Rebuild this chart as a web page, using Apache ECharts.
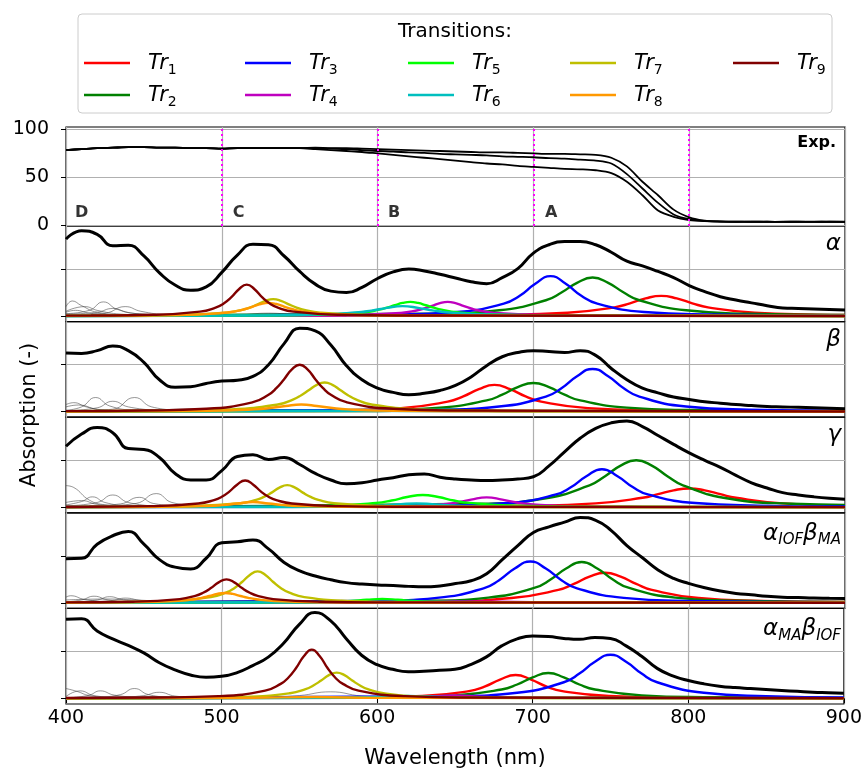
<!DOCTYPE html>
<html><head><meta charset="utf-8">
<script src="https://cdn.jsdelivr.net/npm/echarts@6/dist/echarts.min.js"></script>
<style>html,body{margin:0;padding:0;background:#fff}#c{width:865px;height:771px}</style>
</head><body><div id="c"></div>
<script>
// ---------------- DATA ----------------
const wavelengths = [400,410,420,430,440,450,460,470,480,490,500,510,520,530,540,550,560,570,580,590,600,610,620,630,640,650,660,670,680,690,700,710,720,730,740,750,760,770,780,790,800,810,820,830,840,850,860,870,880,890,900];
const xTicks = [400,500,600,700,800,900];
const expTicks = [0,50,100];
const modelTicks = [0,1];
const expMarkers = [500,600,700,800];
const regionLetters = [['D',405.8,12.5],['C',507,12.5],['B',606.7,12.5],['A',707.4,12.5]];

const expUpper = [78,79,80,80.5,81,81,80.5,80.5,80,80,79.5,80,80,80,80,80,80.5,80,80,79.5,79,78.5,78,77.5,77,76.5,76,75.5,75.5,75,74.5,74,74,73.5,73,70,61,45,31,16,8,4.5,3.7,3.4,3.6,3.2,3.5,3.3,3.6,3.2,3.4];
const expMiddle = [78,79,80,80.5,81,81,80.5,80.5,80,80,79.5,80,80,80,80,80,80,79.5,79,78,77,76.5,75.5,75,74,73.5,73,72.5,71.5,71,70.5,69.5,69,68,67,64,53,38,23,11,6,4.2,3.6,3.3,3.4,3.5,3.2,3.4,3.3,3.5,3.3];
const expLower = [78,79,80,80.5,81,81,80.5,80.5,80,80,79.5,80,80,80,80,80,79,78,77,76,74.5,73,71.5,70,68.5,67,65.5,64,63,61.5,60.5,59.5,58.5,58,57,54,45,31,15,8.5,5.2,4,3.6,3.5,3.3,3.4,3.3,3.5,3.2,3.4,3.3];

const panelLabels = ['α','β','γ','{g|α}{s|IOF}{g|β}{s|MA}','{g|α}{s|MA}{g|β}{s|IOF}'];
const transitionNames = ['1','2','3','4','5','6','7','8','9'];

const totalAlpha = [1.64,1.82,1.74,1.50,1.51,1.28,0.92,0.66,0.55,0.62,0.93,1.30,1.53,1.52,1.28,0.95,0.68,0.53,0.50,0.61,0.80,0.94,1.00,0.96,0.89,0.81,0.73,0.69,0.82,1.01,1.34,1.52,1.59,1.59,1.52,1.36,1.17,1.07,0.95,0.82,0.65,0.52,0.41,0.34,0.28,0.22,0.17,0.16,0.15,0.14,0.13];
const totalBeta = [1.25,1.24,1.30,1.40,1.30,1.05,0.68,0.52,0.53,0.60,0.65,0.67,0.75,1.00,1.45,1.78,1.72,1.42,0.98,0.68,0.50,0.41,0.36,0.39,0.45,0.56,0.74,0.98,1.17,1.26,1.30,1.28,1.26,1.30,1.20,0.92,0.68,0.50,0.40,0.31,0.26,0.21,0.18,0.15,0.13,0.11,0.10,0.09,0.08,0.07,0.06];
const totalGamma = [1.30,1.56,1.70,1.59,1.25,1.23,1.06,0.72,0.58,0.58,0.78,1.08,1.12,1.02,1.06,0.91,0.72,0.58,0.50,0.52,0.58,0.63,0.69,0.71,0.64,0.60,0.58,0.57,0.58,0.60,0.65,0.88,1.18,1.47,1.68,1.80,1.84,1.72,1.53,1.34,1.16,1.00,0.85,0.68,0.52,0.41,0.31,0.26,0.22,0.19,0.17];
const totalAIOF = [0.94,0.95,1.25,1.43,1.52,1.25,0.92,0.76,0.72,0.95,1.28,1.30,1.34,1.15,0.86,0.68,0.57,0.49,0.43,0.40,0.38,0.37,0.35,0.34,0.36,0.41,0.47,0.62,0.92,1.22,1.50,1.62,1.72,1.82,1.76,1.54,1.22,0.96,0.70,0.52,0.41,0.32,0.25,0.20,0.17,0.14,0.12,0.11,0.10,0.095,0.09];
const totalAMA = [1.69,1.70,1.44,1.27,1.13,0.97,0.76,0.61,0.50,0.45,0.47,0.55,0.70,0.88,1.18,1.58,1.83,1.66,1.28,0.92,0.72,0.62,0.57,0.58,0.60,0.62,0.72,0.88,1.12,1.27,1.33,1.32,1.28,1.26,1.30,1.28,1.12,0.90,0.64,0.48,0.38,0.31,0.26,0.23,0.21,0.19,0.17,0.15,0.13,0.12,0.11];

const trAlpha = [
 [[400,.002],[682,.027],[722,.068],[752,.184],[762,.27],[772,.375],[782,.43],[792,.375],[802,.27],[812,.184],[842,.068],[882,.027],[900,.02]],
 [[400,.005],[638,.048],[678,.121],[708,.336],[718,.50],[728,.707],[738,.82],[748,.707],[758,.50],[768,.336],[798,.121],[838,.048],[900,.02]],
 [[400,.003],[611,.032],[651,.085],[681,.262],[691,.425],[701,.68],[711,.85],[721,.68],[731,.425],[741,.262],[771,.085],[811,.032],[900,.01]],
 [[400,.001],[545,.0075],[585,.02],[615,.066],[625,.117],[630,.16],[635,.216],[640,.273],[645,.30],[650,.273],[655,.216],[660,.16],[665,.117],[675,.066],[705,.02],[745,.0075],[900,.001]],
 [[400,.001],[521,.009],[561,.025],[591,.08],[601,.134],[606,.177],[611,.229],[616,.278],[621,.30],[626,.278],[631,.229],[636,.177],[641,.134],[651,.08],[681,.025],[721,.009],[900,.001]],
 [[400,.001],[516,.01],[556,.025],[586,.074],[596,.115],[606,.174],[616,.21],[626,.174],[636,.115],[646,.074],[676,.025],[716,.01],[900,.001]],
 [[400,.003],[433,.008],[473,.021],[503,.072],[513,.13],[518,.18],[523,.249],[528,.324],[533,.36],[538,.324],[543,.249],[548,.18],[553,.13],[563,.072],[593,.021],[633,.008],[900,.001]],
 [[400,.002],[430,.007],[470,.018],[500,.062],[510,.109],[515,.149],[520,.201],[525,.255],[530,.28],[535,.255],[540,.201],[545,.149],[550,.109],[560,.062],[590,.018],[630,.007],[900,.001]],
 [[400,.007],[416,.009],[456,.025],[486,.092],[496,.178],[501,.261],[506,.395],[511,.571],[516,.67],[521,.571],[526,.395],[531,.261],[536,.178],[546,.092],[576,.025],[616,.009],[900,.001]]
];
const trBeta = [
 [[400,.003],[575,.029],[615,.073],[645,.211],[655,.324],[665,.479],[675,.57],[685,.479],[695,.324],[705,.211],[735,.073],[775,.029],[900,.006]],
 [[400,.004],[600,.033],[640,.084],[670,.238],[680,.36],[690,.52],[700,.61],[710,.52],[720,.36],[730,.238],[760,.084],[800,.033],[900,.009]],
 [[400,.004],[638,.042],[678,.108],[708,.319],[718,.499],[728,.754],[738,.91],[748,.754],[758,.499],[768,.319],[798,.108],[838,.042],[900,.02]],
 [[400,0],[600,.01],[640,.03],[680,.01],[900,0]],
 [[400,0],[600,.01],[640,.04],[680,.01],[900,0]],
 [[400,0],[500,.01],[560,.02],[620,.01],[900,0]],
 [[400,.006],[466,.017],[506,.046],[536,.151],[546,.26],[551,.349],[556,.461],[561,.571],[566,.62],[571,.571],[576,.461],[581,.349],[586,.26],[596,.151],[626,.046],[666,.017],[900,.002]],
 [[400,.002],[451,.006],[491,.015],[521,.046],[531,.075],[541,.12],[551,.15],[561,.12],[571,.075],[581,.046],[611,.015],[651,.006],[900,.001]],
 [[400,.01],[450,.022],[490,.059],[520,.2],[530,.36],[535,.5],[540,.692],[545,.9],[550,1.0],[555,.9],[560,.692],[565,.5],[570,.36],[580,.2],[610,.059],[650,.022],[900,.003]]
];
const trGamma = [
 [[400,.003],[700,.033],[740,.08],[770,.2],[780,.277],[790,.36],[800,.40],[810,.36],[820,.277],[830,.2],[860,.08],[900,.033]],
 [[400,.006],[666,.073],[706,.179],[736,.466],[746,.662],[756,.887],[766,1.0],[776,.887],[786,.662],[796,.466],[826,.179],[866,.073],[900,.05]],
 [[400,.003],[644,.034],[684,.088],[714,.266],[724,.424],[734,.66],[744,.81],[754,.66],[764,.424],[774,.266],[804,.088],[844,.034],[900,.016]],
 [[400,.001],[570,.007],[610,.017],[640,.056],[650,.094],[660,.16],[670,.21],[680,.16],[690,.094],[700,.056],[730,.017],[770,.007],[900,.001]],
 [[400,.001],[529,.012],[569,.031],[599,.091],[609,.142],[619,.216],[629,.26],[639,.216],[649,.142],[659,.091],[689,.031],[729,.012],[900,.002]],
 [[400,.001],[525,.004],[565,.01],[595,.028],[605,.044],[615,.066],[625,.08],[635,.066],[645,.044],[655,.028],[685,.01],[725,.004],[900,0]],
 [[400,.004],[442,.009],[482,.024],[512,.084],[522,.155],[527,.219],[532,.311],[537,.417],[542,.47],[547,.417],[552,.311],[557,.219],[562,.155],[572,.084],[602,.024],[642,.009],[900,.001]],
 [[400,.001],[420,.003],[460,.007],[490,.024],[500,.043],[510,.079],[520,.11],[530,.079],[540,.043],[550,.024],[580,.007],[620,.003],[900,0]],
 [[400,.005],[415,.008],[455,.022],[485,.079],[495,.151],[500,.222],[505,.336],[510,.486],[515,.57],[520,.486],[525,.336],[530,.222],[535,.151],[545,.079],[575,.022],[615,.008],[900,.001]]
];
const trAIOF = [
 [[400,.004],[646,.04],[686,.101],[716,.275],[726,.402],[736,.557],[746,.64],[756,.557],[766,.402],[776,.275],[806,.101],[846,.04],[900,.018]],
 [[400,.004],[631,.044],[671,.111],[701,.322],[711,.495],[721,.732],[731,.87],[741,.732],[751,.495],[761,.322],[791,.111],[831,.044],[900,.016]],
 [[400,.005],[598,.04],[638,.105],[668,.308],[678,.482],[688,.73],[698,.88],[708,.73],[718,.482],[728,.308],[758,.105],[798,.04],[900,.01]],
 [[400,0],[600,.01],[650,.03],[700,.01],[900,0]],
 [[400,0],[503,.003],[543,.008],[573,.025],[583,.04],[593,.064],[603,.08],[613,.064],[623,.04],[633,.025],[663,.008],[703,.003],[900,0]],
 [[400,0],[550,.01],[620,.015],[700,.005],[900,0]],
 [[400,.007],[423,.013],[463,.035],[493,.12],[503,.22],[508,.312],[513,.443],[518,.594],[523,.67],[528,.594],[533,.443],[538,.312],[543,.22],[553,.12],[583,.035],[623,.013],[900,.002]],
 [[400,.005],[442,.012],[472,.042],[482,.076],[487,.105],[492,.145],[497,.189],[502,.21],[507,.189],[512,.145],[517,.105],[522,.076],[532,.042],[562,.012],[602,.005],[900,.001]],
 [[400,.008],[443,.023],[473,.079],[483,.149],[488,.215],[493,.314],[498,.436],[503,.50],[508,.436],[513,.314],[518,.215],[523,.149],[533,.079],[563,.023],[603,.009],[900,.001]]
];
const trAMA = [
 [[400,.003],[589,.019],[629,.05],[659,.154],[669,.25],[679,.40],[689,.50],[699,.40],[709,.25],[719,.154],[749,.05],[789,.019],[900,.006]],
 [[400,.003],[610,.025],[650,.064],[680,.189],[690,.296],[700,.448],[710,.54],[720,.448],[730,.296],[740,.189],[770,.064],[810,.025],[900,.008]],
 [[400,.004],[650,.047],[690,.119],[720,.344],[730,.529],[740,.782],[750,.93],[760,.782],[770,.529],[780,.344],[810,.119],[850,.047],[900,.022]],
 [[400,0],[590,.01],[630,.03],[650,.06],[670,.03],[710,.01],[900,0]],
 [[400,0],[580,.01],[620,.03],[660,.01],[900,0]],
 [[400,0],[560,.01],[600,.03],[620,.05],[640,.03],[680,.01],[900,0]],
 [[400,.004],[474,.012],[514,.032],[544,.11],[554,.198],[559,.275],[564,.381],[569,.495],[574,.55],[579,.495],[584,.381],[589,.275],[594,.198],[604,.11],[634,.032],[674,.012],[900,.002]],
 [[400,0],[520,.01],[560,.03],[600,.01],[900,0]],
 [[400,.007],[458,.018],[498,.047],[528,.164],[538,.309],[543,.446],[548,.653],[553,.906],[558,1.04],[563,.906],[568,.653],[573,.446],[578,.309],[588,.164],[618,.047],[658,.018],[900,.002]]
];

const grayAlpha = [
 [[400,0.2],[404,0.32],[410,0.22],[420,0.08],[440,0.02],[480,0.005]],
 [[400,0.05],[415,0.12],[424,0.30],[433,0.14],[450,0.04],[480,0.01]],
 [[400,0.02],[425,0.06],[438,0.2],[448,0.1],[465,0.03],[490,0.01]],
 [[400,0.1],[412,0.2],[420,0.12],[435,0.04],[460,0.01]],
 [[400,0.04],[420,0.08],[430,0.16],[440,0.07],[460,0.02]],
 [[400,0.08],[406,0.12],[415,0.06],[430,0.02]],
 [[480,0],[510,0.02],[530,0.06],[550,0.02],[580,0]]
];
const grayBeta = [
 [[400,0.15],[405,0.19],[413,0.1],[425,0.03],[450,0.01]],
 [[400,0.03],[410,0.1],[419,0.30],[428,0.12],[445,0.03],[470,0.01]],
 [[400,0.02],[420,0.08],[430,0.22],[440,0.1],[460,0.02]],
 [[400,0.01],[430,0.05],[444,0.30],[455,0.1],[475,0.02]],
 [[400,0.1],[408,0.14],[420,0.05],[440,0.01]],
 [[420,0.01],[460,0.04],[490,0.06],[520,0.02],[560,0]]
];
const grayGamma = [
 [[400,0.46],[405,0.42],[415,0.15],[425,0.05],[440,0.01]],
 [[400,0.05],[410,0.12],[417,0.22],[425,0.1],[440,0.03],[460,0.01]],
 [[400,0.03],[420,0.1],[430,0.26],[440,0.1],[460,0.02]],
 [[410,0.02],[435,0.07],[447,0.21],[456,0.08],[475,0.02]],
 [[420,0.02],[445,0.08],[458,0.29],[468,0.1],[490,0.01]],
 [[400,0.1],[410,0.14],[420,0.06],[440,0.01]]
];
const grayAIOF = [
 [[400,0.12],[403,0.15],[412,0.07],[430,0.01]],
 [[400,0.02],[410,0.06],[418,0.14],[427,0.06],[445,0.01]],
 [[405,0.02],[420,0.06],[428,0.13],[437,0.06],[455,0.01]],
 [[415,0.02],[430,0.05],[438,0.1],[448,0.05],[465,0.01]],
 [[400,0.06],[425,0.08],[445,0.06],[470,0.01]]
];
const grayAMA = [
 [[400,0.21],[407,0.15],[415,0.06],[430,0.01]],
 [[400,0.04],[409,0.16],[418,0.06],[435,0.01]],
 [[405,0.02],[415,0.07],[422,0.16],[431,0.07],[450,0.01]],
 [[420,0.02],[435,0.08],[444,0.21],[453,0.08],[470,0.01]],
 [[435,0.02],[450,0.06],[460,0.13],[470,0.05],[490,0.01]],
 [[520,0],[550,0.06],[570,0.14],[590,0.05],[620,0]]
];

// ---------------- BUILD ----------------
const F = 'DejaVu Sans';
const colors = ['#ff0000','#008000','#0000ff','#bf00bf','#00ff00','#00bfbf','#bfbf00','#ff9900','#800000'];
const totals = [totalAlpha,totalBeta,totalGamma,totalAIOF,totalAMA];
const trs = [trAlpha,trBeta,trGamma,trAIOF,trAMA];
const grays = [grayAlpha,grayBeta,grayGamma,grayAIOF,grayAMA];
const LEFT = 66, WIDTH = 779;
const panelTops = [226, 321.6, 417.2, 512.8, 608.4];
const PH = 95.6;
const gridLineStyle = {color:'#b0b0b0', width:1.2};

const grids = [{left:LEFT, top:127, width:WIDTH, height:99, show:true, borderColor:'#000', borderWidth:1.2}];
panelTops.forEach(t => grids.push({left:LEFT, top:t, width:WIDTH, height:PH, show:true, borderColor:'#000', borderWidth:1.2}));

const xAxes = grids.map((g,i) => ({
  type:'value', gridIndex:i, min:400, max:900, interval:100,
  axisLine:{show:false},
  axisTick:{show:i===5, inside:false, length:5, lineStyle:{color:'#000', width:1}},
  axisLabel:{show:i===5, fontSize:19, color:'#000', fontFamily:F, margin:5},
  splitLine:{show:true, lineStyle:gridLineStyle}
}));
const yAxes = [{
  type:'value', gridIndex:0, min:-1.04, max:102,
  axisLine:{show:false},
  axisTick:{show:true, length:5, customValues:expTicks, lineStyle:{color:'#000'}},
  axisLabel:{show:true, customValues:expTicks, fontSize:19, color:'#000', fontFamily:F, margin:17},
  splitLine:{show:true, lineStyle:gridLineStyle}
}];
panelTops.forEach((t,i) => yAxes.push({
  type:'value', gridIndex:i+1, min:-0.12, max:1.92,
  axisLine:{show:false},
  axisTick:{show:true, length:5, customValues:modelTicks, lineStyle:{color:'#000'}},
  axisLabel:{show:false, customValues:modelTicks},
  splitLine:{show:true, lineStyle:gridLineStyle}
}));

const series = [];
const mk = (arr) => wavelengths.map((w,i)=>[w, arr[i]]);
[expUpper, expMiddle, expLower].forEach((arr, k) => {
  const s = {type:'line', xAxisIndex:0, yAxisIndex:0, data:mk(arr), showSymbol:false, smooth:0.3, clip:false,
    lineStyle:{color:'#000', width:1.8}, z:3, silent:true};
  if (k === 0) {
    s.markLine = {silent:true, symbol:['none','none'], label:{show:false},
      lineStyle:{color:'#ff00ff', type:[2,3], width:2},
      data: expMarkers.map(v => ({xAxis:v}))};
  }
  series.push(s);
});
series.push({type:'scatter', xAxisIndex:0, yAxisIndex:0, symbolSize:0, silent:true,
  data: regionLetters.map(r => ({name:r[0], value:[r[1], r[2]]})),
  label:{show:true, position:'right', distance:0, formatter:p=>p.name, fontFamily:F, fontWeight:'bold', fontSize:16, color:'#000'}});

for (let p = 0; p < 5; p++) {
  grays[p].forEach(g => series.push({type:'line', xAxisIndex:p+1, yAxisIndex:p+1, data:g, showSymbol:false, clip:false,
    smooth:0.5, lineStyle:{color:'rgba(60,60,60,0.6)', width:0.9}, silent:true}));
  trs[p].forEach((d,k) => series.push({type:'line', name:'Tr'+(k+1), xAxisIndex:p+1, yAxisIndex:p+1, data:d, showSymbol:false, clip:false,
    smooth:0.5, lineStyle:{color:colors[k], width:2.4}, silent:true}));
  series.push({type:'line', xAxisIndex:p+1, yAxisIndex:p+1, data:mk(totals[p]), showSymbol:false, clip:false,
    smooth:0.5, lineStyle:{color:'#000', width:3}, silent:true});
}

// legend + texts
const graphic = [];
graphic.push({type:'rect', shape:{x:78, y:14, width:754, height:99, r:4}, style:{fill:'#fff', stroke:'#cccccc', lineWidth:1}, z:10});
graphic.push({type:'text', z:11, style:{text:'Transitions:', x:455, y:32, align:'center', verticalAlign:'middle', textAlign:'center', textVerticalAlign:'middle', font:'20px "DejaVu Sans"', fill:'#000'}});
const colX = [84,245,408,570,733];
const rowY = [63,95];
transitionNames.forEach((n,i) => {
  const x0 = colX[Math.floor(i/2)], y = rowY[i%2];
  graphic.push({type:'line', z:11, shape:{x1:x0, y1:y, x2:x0+46, y2:y}, style:{stroke:colors[i], lineWidth:2.5}});
  graphic.push({type:'text', z:11, style:{text:'{a|Tr}{b|'+n+'}', x:x0+64, y:y+1, align:'left', verticalAlign:'middle', textAlign:'left', textVerticalAlign:'middle',
    rich:{a:{fontFamily:F, fontStyle:'italic', fontSize:21, lineHeight:26, fill:'#000', color:'#000'},
          b:{fontFamily:F, fontSize:14, lineHeight:14, verticalAlign:'bottom', fill:'#000', color:'#000'}}}});
});
graphic.push({type:'text', z:11, style:{text:'Exp.', x:836, y:143, align:'right', verticalAlign:'middle', textAlign:'right', textVerticalAlign:'middle', font:'bold 16px "DejaVu Sans"', fill:'#000'}});
panelLabels.forEach((lab,i) => {
  const rich = lab.indexOf('{') >= 0;
  graphic.push({type:'text', z:11, style:{text: rich ? lab : '{g|'+lab+'}', x:841, y:panelTops[i] + (rich ? 21 : 18), align:'right', verticalAlign:'middle', textAlign:'right', textVerticalAlign:'middle',
    rich:{g:{fontFamily:F, fontStyle:'italic', fontSize:23, lineHeight:28, fill:'#000', color:'#000'},
          s:{fontFamily:F, fontStyle:'italic', fontSize:15, lineHeight:15, verticalAlign:'bottom', fill:'#000', color:'#000'}}}});
});
graphic.push({type:'text', z:11, rotation:Math.PI/2, x:30, y:415, style:{text:'Absorption (-)', x:0, y:0, align:'center', verticalAlign:'middle', textAlign:'center', textVerticalAlign:'middle', font:'21px "DejaVu Sans"', fill:'#000'}});
graphic.push({type:'text', z:11, style:{text:'Wavelength (nm)', x:455, y:759, align:'center', verticalAlign:'middle', textAlign:'center', textVerticalAlign:'middle', font:'21px "DejaVu Sans"', fill:'#000'}});

const chart = echarts.init(document.getElementById('c'), null, {renderer:'canvas'});
chart.setOption({
  animation:false,
  backgroundColor:'#fff',
  textStyle:{fontFamily:F},
  grid:grids, xAxis:xAxes, yAxis:yAxes, series:series, graphic:graphic
});
</script></body></html>
